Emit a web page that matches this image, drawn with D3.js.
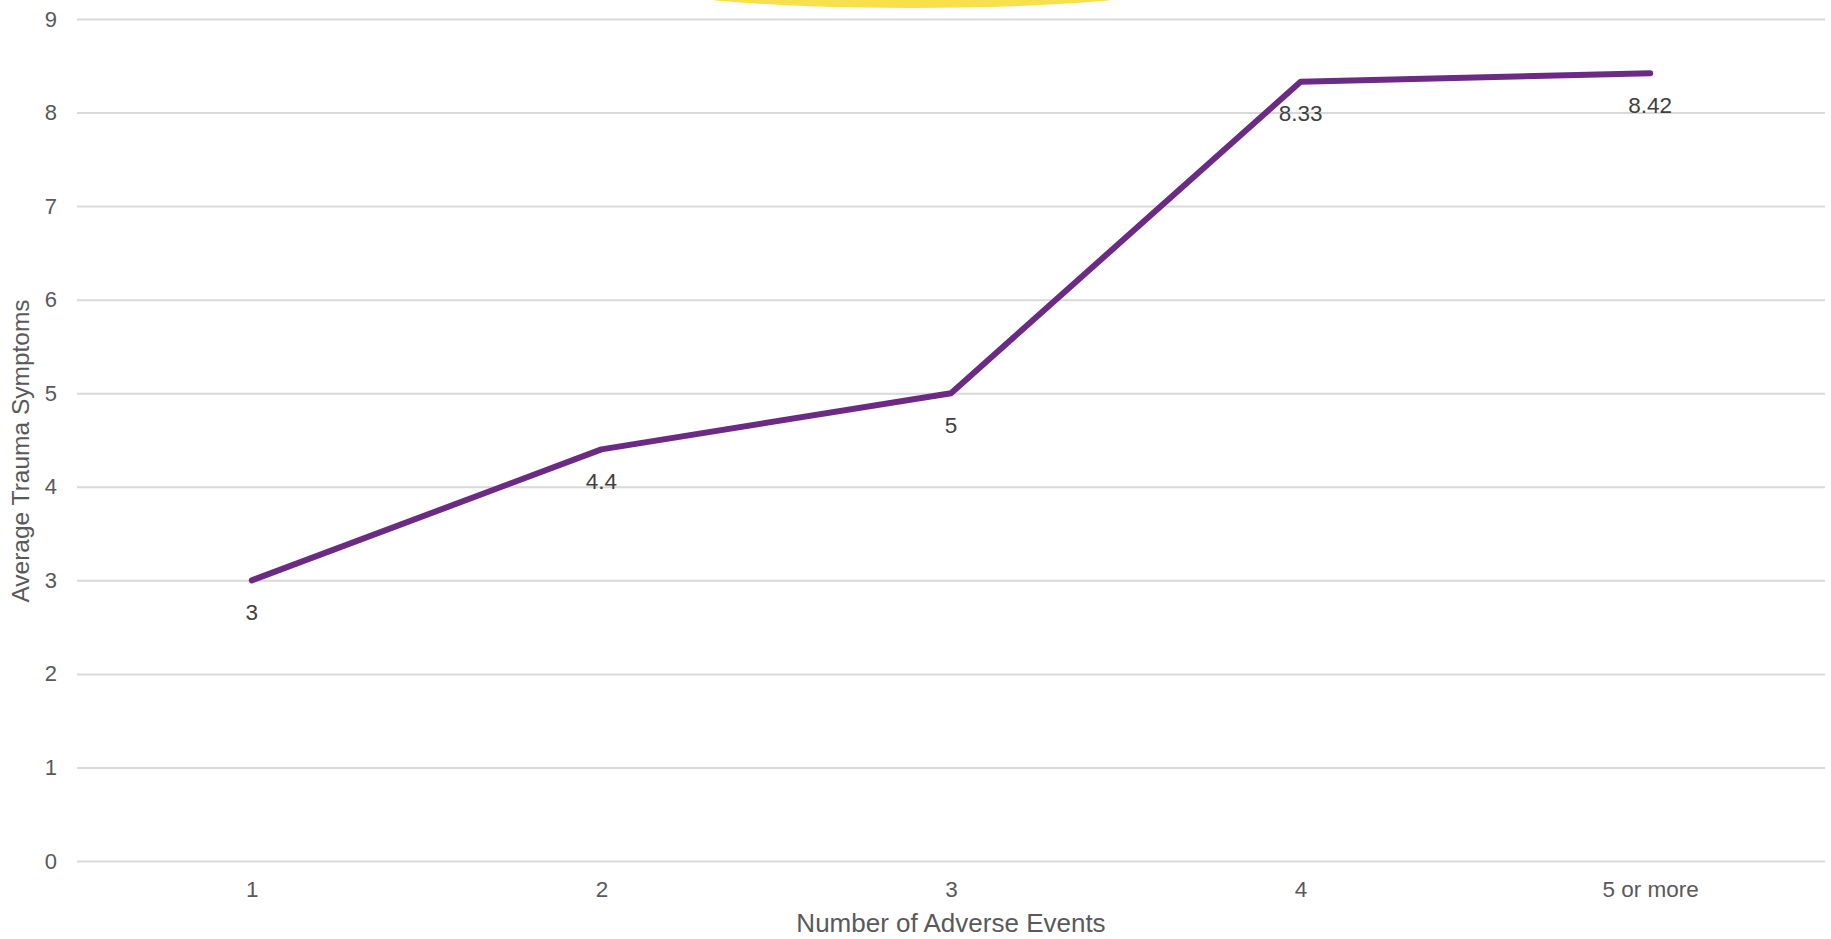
<!DOCTYPE html>
<html>
<head>
<meta charset="utf-8">
<script src="https://cdn.jsdelivr.net/npm/d3@7"></script>
<style>
  html, body { margin: 0; padding: 0; background: #fff; }
  svg { display: block; font-family: "Liberation Sans", Arial, sans-serif; }
</style>
</head>
<body>
<svg id="chart" width="1831" height="939"></svg>
<script>
// Average trauma symptoms by number of adverse events
const categories = ["1", "2", "3", "4", "5 or more"];
const symptoms = [3, 4.4, 5, 8.33, 8.42];
const yTicks = [0, 1, 2, 3, 4, 5, 6, 7, 8, 9];

const width = 1831, height = 939;
const margin = { top: 19, right: 6, bottom: 78, left: 77 };

const svg = d3.select("#chart");

// decorative yellow highlight peeking in at the top edge
svg.append("ellipse")
  .attr("cx", 912).attr("cy", -15)
  .attr("rx", 264).attr("ry", 23)
  .attr("fill", "#f8e04a");

const x = d3.scalePoint()
  .domain(categories)
  .range([margin.left, width - margin.right])
  .padding(0.5);

const y = d3.scaleLinear()
  .domain([0, 9])
  .range([height - margin.bottom, margin.top]);

// horizontal gridlines with value labels
const yAxis = svg.append("g")
  .attr("transform", `translate(${margin.left},0)`)
  .call(d3.axisLeft(y).tickValues(yTicks).tickSize(-(width - margin.left - margin.right)).tickPadding(20));
yAxis.select(".domain").remove();
yAxis.selectAll(".tick line").attr("stroke", "#d9d9d9").attr("stroke-width", 2);
yAxis.selectAll(".tick text")
  .attr("fill", "#595959")
  .style("font-size", "22px");

// category labels
const xAxis = svg.append("g")
  .attr("transform", `translate(0,${height - margin.bottom})`)
  .call(d3.axisBottom(x).tickSize(0).tickPadding(20));
xAxis.select(".domain").remove();
xAxis.selectAll(".tick text")
  .attr("fill", "#595959")
  .style("font-size", "22.5px");

// series line
const line = d3.line()
  .x((d, i) => x(categories[i]))
  .y(d => y(d));

svg.append("path")
  .datum(symptoms)
  .attr("fill", "none")
  .attr("stroke", "#6b2a84")
  .attr("stroke-width", 6)
  .attr("stroke-linejoin", "round")
  .attr("stroke-linecap", "round")
  .attr("d", line);

// value labels below each point
svg.append("g")
  .selectAll("text")
  .data(symptoms)
  .join("text")
  .attr("x", (d, i) => x(categories[i]))
  .attr("y", d => y(d) + 32)
  .attr("text-anchor", "middle")
  .attr("dominant-baseline", "central")
  .attr("fill", "#404040")
  .style("font-size", "22.5px")
  .text(d => d);

// axis titles
svg.append("text")
  .attr("x", (margin.left + width - margin.right) / 2)
  .attr("y", 923)
  .attr("text-anchor", "middle")
  .attr("dominant-baseline", "central")
  .attr("fill", "#595959")
  .style("font-size", "26px")
  .text("Number of Adverse Events");

svg.append("text")
  .attr("transform", "translate(20,451) rotate(-90)")
  .attr("text-anchor", "middle")
  .attr("dominant-baseline", "central")
  .attr("fill", "#595959")
  .style("font-size", "24.5px")
  .text("Average Trauma Symptoms");
</script>
</body>
</html>
